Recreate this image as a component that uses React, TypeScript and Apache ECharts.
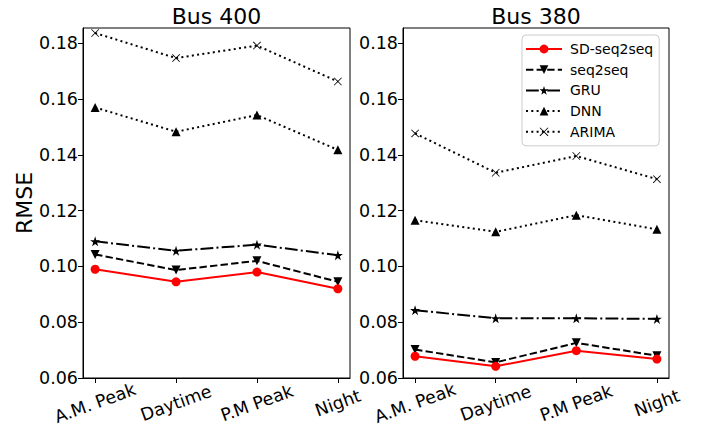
import React, { useEffect, useRef } from 'react';
import * as echarts from 'echarts';

const categories = ['A.M. Peak', 'Daytime', 'P.M Peak', 'Night'];
const yTicks = [0.06, 0.08, 0.1, 0.12, 0.14, 0.16, 0.18];
const seriesNames = ['SD-seq2seq', 'seq2seq', 'GRU', 'DNN', 'ARIMA'];
const panelTitles = ['Bus 400', 'Bus 380'];

const bus400SD = [0.099, 0.0945, 0.098, 0.092];
const bus400Seq = [0.1043, 0.0987, 0.102, 0.0945];
const bus400GRU = [0.109, 0.1056, 0.1078, 0.104];
const bus400DNN = [0.157, 0.1483, 0.1543, 0.1418];
const bus400ARIMA = [0.1837, 0.1747, 0.1792, 0.1663];

const bus380SD = [0.0678, 0.0642, 0.0698, 0.0668];
const bus380Seq = [0.0702, 0.0656, 0.0726, 0.068];
const bus380GRU = [0.0843, 0.0814, 0.0814, 0.0812];
const bus380DNN = [0.1166, 0.1124, 0.1184, 0.1133];
const bus380ARIMA = [0.1477, 0.1336, 0.1396, 0.1313];

const FONT = 'DejaVu Sans';
const STAR = 'path://M50,0L61.17,34.63L97.55,34.55L68.07,55.87L79.39,90.45L50,69L20.61,90.45L31.93,55.87L2.45,34.55L38.83,34.63Z';
const XMARK = 'path://M0,7L7,0L50,43L93,0L100,7L57,50L100,93L93,100L50,57L7,100L0,93L43,50Z';
const TRI_DOWN = 'path://M0,0L100,0L50,100Z';

const styles = [
  { color: '#ff0000', type: 'solid' as any, symbol: 'circle', size: 9 },
  { color: '#000', type: [7.4, 3.2], symbol: TRI_DOWN, size: 9 },
  { color: '#000', type: [12.8, 3.2, 2, 3.2], symbol: STAR, size: 10 },
  { color: '#000', type: [2, 3.3], symbol: 'triangle', size: 9 },
  { color: '#000', type: [2, 3.3], symbol: XMARK, size: 8 },
];

const panels = [
  [bus400SD, bus400Seq, bus400GRU, bus400DNN, bus400ARIMA],
  [bus380SD, bus380Seq, bus380GRU, bus380DNN, bus380ARIMA],
];

export default function App() {
  const ref = useRef<HTMLDivElement>(null);
  useEffect(() => {
    if (!ref.current) return;
    const chart = echarts.init(ref.current, undefined, { renderer: 'svg' });
    const grids = [
      { left: 83, top: 28, width: 267, height: 350 },
      { left: 403, top: 28, width: 266, height: 350 },
    ];
    const xAxes = grids.map((_, gi) => ({
      type: 'value',
      gridIndex: gi,
      min: -0.15,
      max: 3.15,
      splitLine: { show: false },
      axisLine: { show: true, onZero: false, lineStyle: { color: '#000', width: 1 } },
      axisTick: { show: true, length: 5, customValues: [0, 1, 2, 3], lineStyle: { color: '#000' } },
      axisLabel: {
        customValues: [0, 1, 2, 3],
        formatter: (v: number) => categories[Math.round(v)] ?? '',
        rotate: 20,
        align: 'center',
        verticalAlign: 'middle',
        margin: 25,
        fontSize: 17.5,
        color: '#000',
        fontFamily: FONT,
      },
    }));
    const yAxes = grids.map((_, gi) => ({
      type: 'value',
      gridIndex: gi,
      min: 0.06,
      max: 0.1855,
      splitLine: { show: false },
      axisLine: { show: true, onZero: false, lineStyle: { color: '#000', width: 1 } },
      axisTick: { show: true, length: 5, customValues: yTicks, lineStyle: { color: '#000' } },
      axisLabel: {
        customValues: yTicks,
        formatter: (v: number) => v.toFixed(2),
        margin: 5,
        fontSize: 17.5,
        color: '#000',
        fontFamily: FONT,
      },
    }));
    const series: any[] = [];
    panels.forEach((panel, pi) => {
      panel.forEach((vals, si) => {
        const s = styles[si];
        series.push({
          type: 'line',
          name: seriesNames[si],
          xAxisIndex: pi,
          yAxisIndex: pi,
          data: vals.map((v, i) => [i, v]),
          symbol: s.symbol,
          symbolSize: s.size,
          showAllSymbol: true,
          itemStyle: { color: s.color, borderWidth: 0 },
          lineStyle: { color: s.color, width: 2, type: s.type, cap: 'butt' },
          emphasis: { disabled: true },
          z: 10 - si,
        });
      });
    });
    chart.setOption({
      animation: false,
      grid: grids.map((g) => ({ ...g, show: true, borderColor: '#000', borderWidth: 1, backgroundColor: 'transparent' })),
      xAxis: xAxes,
      yAxis: yAxes,
      series,
      legend: {
        data: seriesNames,
        orient: 'vertical',
        left: 522,
        top: 35,
        padding: [7, 6, 7, 3],
        itemWidth: 36,
        itemHeight: 11,
        itemGap: 6.7,
        backgroundColor: '#fff',
        borderColor: '#cccccc',
        borderWidth: 1,
        borderRadius: 4,
        textStyle: { fontSize: 14, color: '#000', fontFamily: FONT, padding: [0, 0, 0, 3] },
        selectedMode: false,
      },
      graphic: [
        ...panelTitles.map((t, i) => ({
          type: 'text',
          x: i === 0 ? 216.5 : 536,
          y: 16,
          style: { text: t, fontSize: 22, fontFamily: FONT, fill: '#000', textAlign: 'center', textVerticalAlign: 'middle' },
        })),
        {
          type: 'text',
          x: 24,
          y: 203,
          rotation: Math.PI / 2,
          style: { text: 'RMSE', fontSize: 22, fontFamily: FONT, fill: '#000', textAlign: 'center', textVerticalAlign: 'middle' },
        },
      ],
    });
    return () => chart.dispose();
  }, []);
  return <div ref={ref} style={{ position: 'fixed', left: 0, top: 0, width: 709, height: 430, background: '#fff' }} />;
}
